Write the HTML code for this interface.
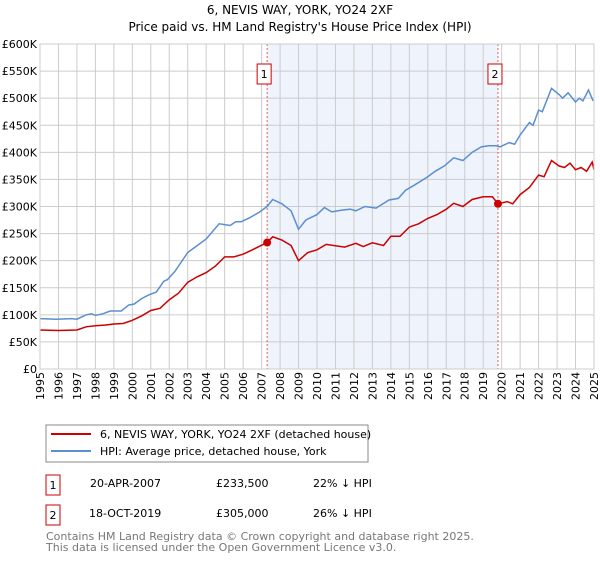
<!DOCTYPE html>
<html><head><meta charset="utf-8"><style>
body{margin:0;background:#fff;width:600px;height:560px;overflow:hidden;font-family:"Liberation Sans","DejaVu Sans",sans-serif;}
svg text{font-family:"DejaVu Sans","Liberation Sans",sans-serif;}
</style></head><body>
<svg id="c" width="600" height="560" xmlns="http://www.w3.org/2000/svg">
<text x="300" y="14" text-anchor="middle" font-size="12" fill="#000">6, NEVIS WAY, YORK, YO24 2XF</text>
<text x="300" y="31" text-anchor="middle" font-size="12" fill="#000">Price paid vs. HM Land Registry's House Price Index (HPI)</text>
<g id="plot"></g>
<g>
<rect x="46" y="425" width="322" height="37" fill="#fff" stroke="#888" stroke-width="1"/>
<line x1="51" y1="434" x2="91" y2="434" stroke="#cc0000" stroke-width="2"/>
<text x="100" y="438" font-size="11">6, NEVIS WAY, YORK, YO24 2XF (detached house)</text>
<line x1="51" y1="451" x2="91" y2="451" stroke="#5b8fd0" stroke-width="2"/>
<text x="100" y="455" font-size="11">HPI: Average price, detached house, York</text>
</g>
<g font-size="11">
<rect x="46" y="475" width="14" height="20" fill="#fff" stroke="#cc0000"/><text x="53" y="489" text-anchor="middle">1</text>
<text x="90" y="487">20-APR-2007</text><text x="216" y="487">£233,500</text><text x="313" y="487">22% ↓ HPI</text>
<rect x="46" y="505" width="14" height="20" fill="#fff" stroke="#cc0000"/><text x="53" y="519" text-anchor="middle">2</text>
<text x="89" y="517">18-OCT-2019</text><text x="216" y="517">£305,000</text><text x="313" y="517">26% ↓ HPI</text>
</g>
<text x="46" y="540" font-size="11" fill="#777">Contains HM Land Registry data © Crown copyright and database right 2025.</text>
<text x="46" y="551" font-size="11" fill="#777">This data is licensed under the Open Government Licence v3.0.</text>
</svg>
<script>
const hpiYears=[1995,1995.9,1996.7,1997,1997.5,1997.8,1998,1998.4,1998.8,1999.4,1999.8,2000.1,2000.5,2000.9,2001.3,2001.7,2001.9,2002.3,2002.8,2003,2003.4,2004,2004.7,2005.3,2005.6,2005.9,2006.4,2006.9,2007.3,2007.6,2008.1,2008.6,2009.0,2009.4,2010,2010.4,2010.8,2011.3,2011.8,2012.1,2012.6,2013.2,2013.9,2014.4,2014.8,2015.3,2016,2016.4,2016.9,2017.4,2017.9,2018.4,2018.9,2019.3,2019.7,2019.9,2020.4,2020.7,2021,2021.5,2021.7,2022,2022.2,2022.7,2023.1,2023.3,2023.6,2024,2024.2,2024.4,2024.7,2024.95];
const hpiValues=[93,92,93,92,100,102,99,102,107,107,118,120,130,137,142,162,165,180,205,215,225,240,268,265,272,272,280,290,300,313,305,292,258,275,285,298,290,293,295,292,300,297,312,315,330,340,355,365,375,390,385,400,410,412,412,410,418,415,432,455,450,478,475,518,507,500,510,493,500,495,515,495];
const ppYears=[1995,1996,1997,1997.5,1998,1998.5,1999,1999.5,2000,2000.5,2001,2001.5,2002,2002.5,2003,2003.5,2004,2004.5,2005,2005.5,2006,2006.5,2007.3,2007.6,2008.1,2008.6,2009.0,2009.5,2010,2010.5,2011.5,2012.1,2012.5,2013,2013.6,2014,2014.5,2015,2015.5,2016,2016.5,2017,2017.4,2017.9,2018.4,2019,2019.5,2019.8,2020.3,2020.6,2021,2021.5,2022,2022.3,2022.7,2023.1,2023.4,2023.7,2024,2024.3,2024.6,2024.9,2025];
const ppValues=[72,71,72,78,80,81,83,84,90,98,108,112,128,140,160,170,178,190,207,207,212,220,233.5,244,238,228,200,215,220,230,225,232,226,233,228,245,245,262,268,278,285,295,306,300,313,318,318,305,309,305,322,335,358,355,385,375,372,380,368,372,365,382,368];
const sales=[{n:"1",t:2007.3,v:233.5},{n:"2",t:2019.8,v:305}];
const yTicks=[0,50,100,150,200,250,300,350,400,450,500,550,600];
const xTicks=[1995,1996,1997,1998,1999,2000,2001,2002,2003,2004,2005,2006,2007,2008,2009,2010,2011,2012,2013,2014,2015,2016,2017,2018,2019,2020,2021,2022,2023,2024,2025];
const X0=40,X1=594,Y0=369,Y1=44;
const xs=t=>X0+(t-1995)/30*(X1-X0);
const ys=v=>Y0-v/600*(Y0-Y1);
const NS="http://www.w3.org/2000/svg";
const g=document.getElementById('plot');
function mk(tag,attrs){const e=document.createElementNS(NS,tag);for(const k in attrs)e.setAttribute(k,attrs[k]);g.appendChild(e);return e;}
const bg=mk('rect',{x:X0,y:Y1,width:X1-X0,height:Y0-Y1,fill:'#fff'});


const sh=mk('rect',{x:xs(sales[0].t),y:Y1,width:xs(sales[1].t)-xs(sales[0].t),height:Y0-Y1,fill:'#eef3fc'});


yTicks.forEach(v=>{
 const l=mk('line',{x1:X0,x2:X1,y1:ys(v),y2:ys(v),stroke:'#ccc','stroke-width':1});
 
 
 const t=mk('text',{x:X0-3,y:ys(v)+4,'text-anchor':'end','font-size':11,fill:'#000'});
 t.textContent=v===0?'£0':'£'+v+'K';
 
 
});
xTicks.forEach(yr=>{
 const l=mk('line',{x1:xs(yr),x2:xs(yr),y1:Y1,y2:Y0,stroke:'#ccc','stroke-width':1});
 
 
 const x=xs(yr)+4,y=Y0+3;
 const t=mk('text',{x:x,y:y,transform:`rotate(-90 ${x} ${y})`,'text-anchor':'end','font-size':11,fill:'#000'});
 t.textContent=yr;
 
 
});
sales.forEach(s=>{
 const l=mk('line',{x1:xs(s.t),x2:xs(s.t),y1:Y1,y2:Y0,stroke:'#e06060','stroke-width':1,'stroke-dasharray':'2,2'});
 
 
});
function path(xa,va,color,name){
 const d=xa.map((t,i)=>(i?'L':'M')+xs(t).toFixed(1)+','+ys(va[i]).toFixed(1)).join('');
 const p=mk('path',{d:d,fill:'none',stroke:color,'stroke-width':1.5});
 
 
}
path(hpiYears,hpiValues,'#5b8fd0','hpi-line');
path(ppYears,ppValues,'#cc0000','price-paid-line');
sales.forEach(s=>{
 const c=mk('circle',{cx:xs(s.t),cy:ys(s.v),r:4,fill:'#cc0000'});
 
 
 const bx=xs(s.t)-10;
 const r=mk('rect',{x:bx,y:64,width:14,height:20,fill:'#fff',stroke:'#cc0000'});
 
 
 const t=mk('text',{x:bx+7,y:78,'text-anchor':'middle','font-size':11});
 t.textContent=s.n;
 
 
});
const fr=mk('rect',{x:X0,y:Y1,width:X1-X0,height:Y0-Y1,fill:'none',stroke:'#ccc'});


</script>
</body></html>
